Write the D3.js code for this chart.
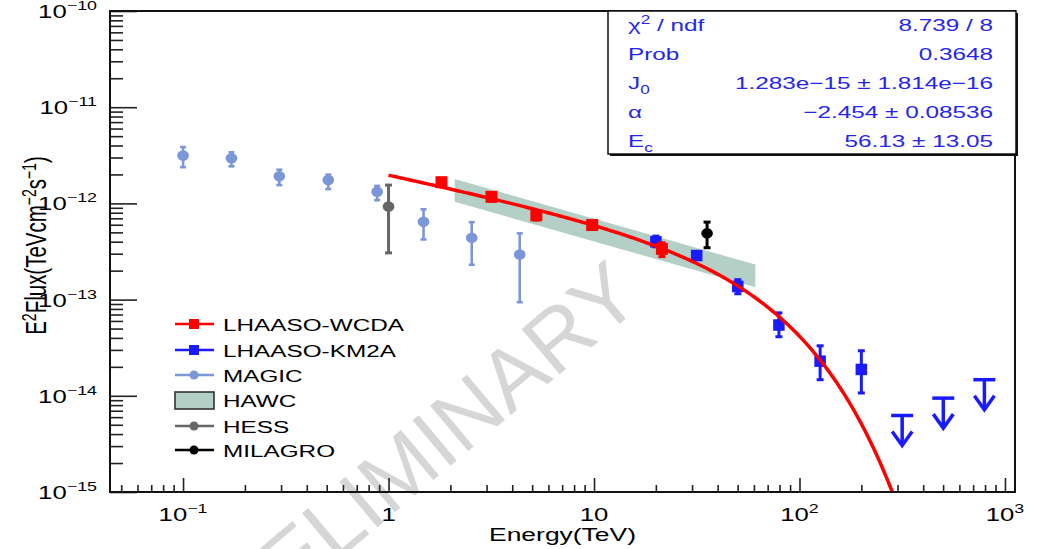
<!DOCTYPE html>
<html>
<head>
<meta charset="utf-8">
<script src="https://cdn.jsdelivr.net/npm/d3@7"></script>
<style>
  body { margin: 0; background: #fff; }
  svg { display: block; }
  text { font-family: "Liberation Sans", Arial, Helvetica, sans-serif; }
</style>
</head>
<body>
<svg id="chart" width="1041" height="549"></svg>
<script>
// ---- Spectral points (E in TeV, E^2 dN/dE in TeV cm^-2 s^-1) ----
const wcdaE  = [1.81, 3.17, 5.24, 9.8, 21.4];
const wcdaF  = [1.66e-12, 1.17e-12, 7.53e-13, 5.96e-13, 3.37e-13];
const wcdaLo = [1.50e-12, 1.06e-12, 6.70e-13, 5.40e-13, 2.80e-13];
const wcdaHi = [1.82e-12, 1.28e-12, 8.40e-13, 6.50e-13, 3.90e-13];

const km2aE  = [20, 31.6, 50.1, 79.4, 126, 200];
const km2aF  = [3.99e-13, 2.87e-13, 1.37e-13, 5.44e-14, 2.29e-14, 1.88e-14];
const km2aLo = [3.54e-13, 2.65e-13, 1.15e-13, 4.11e-14, 1.47e-14, 1.07e-14];
const km2aHi = [4.57e-13, 3.10e-13, 1.61e-13, 7.28e-14, 3.31e-14, 2.94e-14];

const km2aUlE = [316, 501, 794];
const km2aUl  = [6.24e-15, 9.46e-15, 1.47e-14];

const magicE  = [0.1, 0.172, 0.294, 0.509, 0.88, 1.48, 2.54, 4.35];
const magicF  = [3.14e-12, 2.95e-12, 1.91e-12, 1.75e-12, 1.32e-12, 6.44e-13, 4.40e-13, 2.94e-13];
const magicLo = [2.38e-12, 2.43e-12, 1.55e-12, 1.41e-12, 1.08e-12, 4.22e-13, 2.30e-13, 9.40e-14];
const magicHi = [3.85e-12, 3.40e-12, 2.24e-12, 1.99e-12, 1.52e-12, 8.69e-13, 6.39e-13, 4.88e-13];

const hessE  = [1.0];
const hessF  = [9.29e-13];
const hessLo = [3.06e-13];
const hessHi = [1.55e-12];

const milagroE  = [35.5];
const milagroF  = [4.88e-13];
const milagroLo = [3.46e-13];
const milagroHi = [6.39e-13];

// HAWC power-law band: energy range with lower / upper envelopes
const hawcE    = [2.1, 61];
const hawcLow  = [1.04e-12, 1.34e-13];
const hawcHigh = [1.79e-12, 2.31e-13];

// Fit: J0 (E/E0)^alpha exp(-E/Ec), drawn as E^2 dN/dE
const fitJ0 = 1.283e-15, fitAlpha = -2.454, fitEc = 56.13, fitE0 = 20;
const fitRange = [1, 1000];

const statLabels = ["χ2 / ndf", "Prob", "J0", "α", "Ec"];
const statValues = ["8.739 / 8", "0.3648", "1.283e−15 ± 1.814e−16", "−2.454 ± 0.08536", "56.13 ± 13.05"];

const xMajor = [0.1, 1, 10, 100, 1000];
const xMajorLabels = [["10", "−1"], ["1", ""], ["10", ""], ["10", "2"], ["10", "3"]];
const yMajor = [1e-15, 1e-14, 1e-13, 1e-12, 1e-11, 1e-10];
const yMajorLabels = ["−15", "−14", "−13", "−12", "−11", "−10"];

const legendNames = ["LHAASO-WCDA", "LHAASO-KM2A", "MAGIC", "HAWC", "HESS", "MILAGRO"];

// ---- Layout ----
const frame = { left: 110, right: 1015, top: 11, bottom: 492 };
const SX = 1.43;                // horizontal stretch of all chart text
const C = {
  wcda: "#ff0000", km2a: "#1a1aff", magic: "#7b97d8", hess: "#666666",
  milagro: "#000000", hawc: "#b4cfc5", stat: "#2525ee", mark: "#d6d6d6"
};

const svg = d3.select("#chart");
const x = d3.scaleLog().domain([0.0441, 1119]).range([frame.left, frame.right]);
const y = d3.scaleLog().domain([1e-15, 1e-10]).range([frame.bottom, frame.top]);

// text placed at (px,py), stretched horizontally
function label(parent, px, py, anchor, size, color) {
  return parent.append("text")
    .attr("transform", `translate(${px},${py}) scale(${SX},1)`)
    .attr("text-anchor", anchor)
    .attr("font-size", size)
    .attr("fill", color || "#000");
}

// ---- Watermark ----
svg.append("text")
  .attr("transform", "translate(402,466) rotate(-40)")
  .attr("text-anchor", "middle")
  .attr("dy", "0.36em")
  .attr("font-size", 86)
  .attr("fill", C.mark)
  .text("PRELIMINARY");

// ---- Plot area (clipped) ----
svg.append("defs").append("clipPath").attr("id", "frameClip")
  .append("rect")
  .attr("x", frame.left).attr("y", frame.top)
  .attr("width", frame.right - frame.left).attr("height", frame.bottom - frame.top);
const plot = svg.append("g").attr("clip-path", "url(#frameClip)");

// HAWC band
const hawcPoly = hawcE.map((e, i) => [x(e), y(hawcHigh[i])])
  .concat(hawcE.map((e, i) => [x(e), y(hawcLow[i])]).reverse());
plot.append("path")
  .attr("d", d3.line()(hawcPoly) + "Z")
  .attr("fill", C.hawc);

// generic error-bar series
function series(E, F, Lo, Hi, color, marker, size, cap, sw) {
  const g = plot.append("g");
  E.forEach((e, i) => {
    const cx = x(e);
    g.append("line").attr("x1", cx).attr("x2", cx)
      .attr("y1", y(Lo[i])).attr("y2", y(Hi[i]))
      .attr("stroke", color).attr("stroke-width", sw);
    [Lo[i], Hi[i]].forEach(v => {
      g.append("line").attr("x1", cx - cap).attr("x2", cx + cap)
        .attr("y1", y(v)).attr("y2", y(v))
        .attr("stroke", color).attr("stroke-width", sw);
    });
    if (marker === "square") {
      g.append("rect").attr("x", cx - size / 2).attr("y", y(F[i]) - size / 2)
        .attr("width", size).attr("height", size).attr("fill", color);
    } else {
      g.append("ellipse").attr("cx", cx).attr("cy", y(F[i]))
        .attr("rx", size * 1.1).attr("ry", size)
        .attr("fill", color);
    }
  });
}

series(magicE, magicF, magicLo, magicHi, C.magic, "circle", 5.3, 3, 2.6);
series(hessE, hessF, hessLo, hessHi, C.hess, "circle", 5.3, 3.5, 3);
series(milagroE, milagroF, milagroLo, milagroHi, C.milagro, "circle", 5.3, 3.5, 3);
series(km2aE, km2aF, km2aLo, km2aHi, C.km2a, "square", 11.5, 3.5, 3);

// KM2A upper limits
const ulG = plot.append("g").attr("stroke", C.km2a).attr("stroke-width", 3.5).attr("fill", "none");
km2aUlE.forEach((e, i) => {
  const cx = x(e), top = y(km2aUl[i]), tip = top + 30;
  ulG.append("line").attr("x1", cx - 11).attr("x2", cx + 11).attr("y1", top).attr("y2", top);
  ulG.append("line").attr("x1", cx).attr("x2", cx).attr("y1", top).attr("y2", tip - 1);
  ulG.append("path").attr("d", `M${cx - 10},${tip - 14}L${cx},${tip}L${cx + 10},${tip - 14}`);
});

series(wcdaE, wcdaF, wcdaLo, wcdaHi, C.wcda, "square", 12, 3.5, 3);

// fitted spectrum
const fitFn = e => fitJ0 * Math.pow(e / fitE0, fitAlpha) * Math.exp(-e / fitEc) * e * e;
const fitPts = d3.range(0, 301).map(i =>
  Math.pow(10, Math.log10(fitRange[0]) + i / 300 * (Math.log10(fitRange[1]) - Math.log10(fitRange[0]))));
plot.append("path")
  .datum(fitPts.filter(e => fitFn(e) > 3e-16))
  .attr("d", d3.line().x(e => x(e)).y(e => y(fitFn(e))))
  .attr("fill", "none").attr("stroke", C.wcda).attr("stroke-width", 3.5);

// ---- Axes ----
const xMinor = [];
[0.01, 0.1, 1, 10, 100].forEach(d => { for (let k = 2; k <= 9; k++) xMinor.push(d * k); });
const xMinorIn = xMinor.filter(v => v > x.domain()[0] && v < x.domain()[1]);
const yMinor = [];
[1e-15, 1e-14, 1e-13, 1e-12, 1e-11].forEach(d => { for (let k = 2; k <= 9; k++) yMinor.push(d * k); });

function styleAxis(g) {
  g.select(".domain").remove();
  g.selectAll(".tick line").attr("stroke", "#222").attr("stroke-width", 1.6);
  g.selectAll(".tick text").remove();
}
svg.append("g").attr("transform", `translate(0,${frame.bottom})`)
  .call(d3.axisBottom(x).tickValues(xMinorIn).tickSize(-7).tickFormat(""))
  .call(styleAxis);
svg.append("g").attr("transform", `translate(0,${frame.bottom})`)
  .call(d3.axisBottom(x).tickValues(xMajor).tickSize(-14).tickFormat(""))
  .call(styleAxis);
svg.append("g").attr("transform", `translate(${frame.left},0)`)
  .call(d3.axisLeft(y).tickValues(yMinor).tickSize(-13).tickFormat(""))
  .call(styleAxis);
svg.append("g").attr("transform", `translate(${frame.left},0)`)
  .call(d3.axisLeft(y).tickValues(yMajor).tickSize(-27).tickFormat(""))
  .call(styleAxis);

// frame
svg.append("rect")
  .attr("x", frame.left).attr("y", frame.top)
  .attr("width", frame.right - frame.left).attr("height", frame.bottom - frame.top)
  .attr("fill", "none").attr("stroke", "#111").attr("stroke-width", 2);

// tick labels
xMajor.forEach((v, i) => {
  const [base, exp] = xMajorLabels[i];
  const t = label(svg, x(v), 521, "middle", 18);
  t.append("tspan").text(base);
  if (exp) t.append("tspan").attr("dy", -8).attr("font-size", 12.5).text(exp);
});
yMajor.forEach((v, i) => {
  const t = label(svg, 97, y(v) + 7, "end", 18);
  t.append("tspan").text("10");
  t.append("tspan").attr("dy", -8).attr("font-size", 12.5).text(yMajorLabels[i]);
});

// axis titles
label(svg, (frame.left + frame.right) / 2, 541, "middle", 18.5).text("Energy(TeV)");
const yt = svg.append("text")
  .attr("transform", `translate(46,${(frame.top + frame.bottom) / 2 - 6}) scale(${SX},1) rotate(-90)`)
  .attr("text-anchor", "middle").attr("font-size", 20.5).attr("fill", "#000");
yt.append("tspan").text("E");
yt.append("tspan").attr("dy", -7).attr("font-size", 14).text("2");
yt.append("tspan").attr("dy", 7).text("Flux(TeVcm");
yt.append("tspan").attr("dy", -7).attr("font-size", 14).text("−2");
yt.append("tspan").attr("dy", 7).text("s");
yt.append("tspan").attr("dy", -7).attr("font-size", 14).text("−1");
yt.append("tspan").attr("dy", 7).text(")");

// ---- Legend ----
const legY = [324, 350, 375, 400, 426, 450];
const legStyles = [
  { c: C.wcda, m: "square" }, { c: C.km2a, m: "square" }, { c: C.magic, m: "circle" },
  { c: C.hawc, m: "box" }, { c: C.hess, m: "circle" }, { c: C.milagro, m: "circle" }
];
const leg = svg.append("g");
legendNames.forEach((name, i) => {
  const cy = legY[i], st = legStyles[i];
  if (st.m === "box") {
    leg.append("rect").attr("x", 175).attr("y", cy - 8).attr("width", 39).attr("height", 17)
      .attr("fill", st.c).attr("stroke", "#333").attr("stroke-width", 1.6);
  } else {
    leg.append("line").attr("x1", 175).attr("x2", 214).attr("y1", cy).attr("y2", cy)
      .attr("stroke", st.c).attr("stroke-width", 2.5);
    if (st.m === "square") {
      leg.append("rect").attr("x", 189).attr("y", cy - 5).attr("width", 10).attr("height", 10).attr("fill", st.c);
    } else {
      leg.append("circle").attr("cx", 194).attr("cy", cy).attr("r", 4.5).attr("fill", st.c);
    }
  }
  label(leg, 223, cy + 6.5, "start", 17).text(name);
});

// ---- Fit statistics box ----
const box = { x: 608, y: 11, w: 408, h: 143 };
svg.append("rect").attr("x", box.x + 2).attr("y", box.y + 2).attr("width", box.w).attr("height", box.h)
  .attr("fill", "#111");
svg.append("rect").attr("x", box.x).attr("y", box.y).attr("width", box.w).attr("height", box.h)
  .attr("fill", "#fff").attr("stroke", "#111").attr("stroke-width", 1.5);
const statBase = [30.5, 59.7, 88.9, 118.1, 147.3];
statLabels.forEach((lab, i) => {
  const t = label(svg, 628, statBase[i], "start", 17, C.stat);
  if (i === 0) {
    t.append("tspan").text("χ");
    t.append("tspan").attr("dy", -7).attr("font-size", 12).text("2");
    t.append("tspan").attr("dy", 7).text(" / ndf");
  } else if (i === 2) {
    t.append("tspan").text("J");
    t.append("tspan").attr("dy", 5).attr("font-size", 12).text("0");
  } else if (i === 4) {
    t.append("tspan").text("E");
    t.append("tspan").attr("dy", 5).attr("font-size", 12).text("c");
  } else {
    t.text(lab);
  }
  label(svg, 993, statBase[i], "end", 17, C.stat).text(statValues[i]);
});
</script>
</body>
</html>
